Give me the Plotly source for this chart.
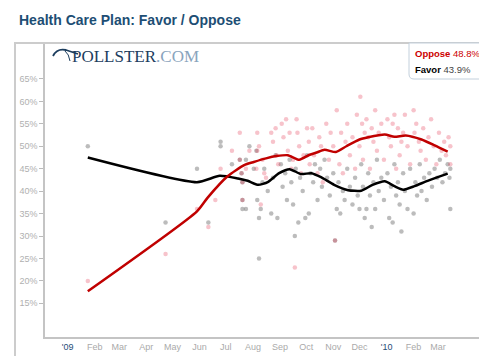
import plotly.graph_objects as go

# ---------------- data ----------------
oppose_dates = [
    "2009-01-24", "2009-04-23", "2009-05-29", "2009-06-11", "2009-06-19", "2009-06-25",
    "2009-07-08", "2009-07-17", "2009-07-17", "2009-07-19", "2009-07-20", "2009-07-20",
    "2009-07-24", "2009-07-28", "2009-08-05", "2009-08-06", "2009-08-06", "2009-08-08",
    "2009-08-10", "2009-08-12", "2009-08-14", "2009-08-16", "2009-08-22", "2009-08-24",
    "2009-08-27", "2009-08-28", "2009-08-30", "2009-09-03", "2009-09-05", "2009-09-08",
    "2009-09-10", "2009-09-12", "2009-09-14", "2009-09-16", "2009-09-18", "2009-09-20",
    "2009-09-21", "2009-09-23", "2009-09-25", "2009-09-28", "2009-10-02", "2009-10-04",
    "2009-10-05", "2009-10-08", "2009-10-10", "2009-10-14", "2009-10-16", "2009-10-18",
    "2009-10-20", "2009-10-24", "2009-10-27", "2009-10-29", "2009-11-01", "2009-11-03",
    "2009-11-05", "2009-11-08", "2009-11-10", "2009-11-12", "2009-11-15", "2009-11-17",
    "2009-11-20", "2009-11-23", "2009-11-26", "2009-11-28", "2009-12-01", "2009-12-02",
    "2009-12-04", "2009-12-05", "2009-12-07", "2009-12-09", "2009-12-11", "2009-12-13",
    "2009-12-15", "2009-12-17", "2009-12-19", "2009-12-21", "2009-12-23", "2009-12-26",
    "2009-12-29", "2010-01-02", "2010-01-04", "2010-01-06", "2010-01-08", "2010-01-10",
    "2010-01-12", "2010-01-14", "2010-01-16", "2010-01-18", "2010-01-20", "2010-01-22",
    "2010-01-25", "2010-01-28", "2010-02-01", "2010-02-02", "2010-02-04", "2010-02-07",
    "2010-02-09", "2010-02-12", "2010-02-15", "2010-02-18", "2010-02-21", "2010-02-24",
    "2010-02-27", "2010-03-02", "2010-03-05", "2010-03-08", "2010-03-10", "2010-03-13",
    "2010-03-15", "2010-03-15",
]
oppose_vals = [
    20, 26, 36, 32, 38, 45,
    49, 53, 47, 44, 42, 38,
    45, 49, 45, 53, 49, 50,
    37, 47, 44, 43, 53, 51,
    54, 48, 46, 55, 52, 56,
    49, 53, 45, 47, 23, 56,
    53, 50, 44, 48, 54, 51,
    46, 54, 48, 44, 52, 50,
    42, 55, 47, 53, 50, 29,
    58, 46, 53, 44, 51, 55,
    48, 52, 45, 57, 50, 61,
    55, 47, 53, 56, 52, 45,
    54, 51, 58, 49, 53, 55,
    47, 56, 52, 50, 55, 57,
    45, 54, 48, 51, 53, 57,
    50, 46, 58, 53, 55, 51,
    49, 54, 47, 52, 56, 50,
    46, 53, 49, 51, 48, 52,
    50, 46,
]

favor_dates = [
    "2009-01-24", "2009-04-23", "2009-05-29", "2009-06-11", "2009-06-25", "2009-06-25",
    "2009-07-08", "2009-07-17", "2009-07-19", "2009-07-20", "2009-07-20", "2009-07-20",
    "2009-07-24", "2009-07-24", "2009-07-28", "2009-08-02", "2009-08-05", "2009-08-06",
    "2009-08-08", "2009-08-08", "2009-08-10", "2009-08-12", "2009-08-14", "2009-08-18",
    "2009-08-22", "2009-08-24", "2009-08-27", "2009-08-29", "2009-09-02", "2009-09-04",
    "2009-09-07", "2009-09-09", "2009-09-12", "2009-09-14", "2009-09-16", "2009-09-18",
    "2009-09-19", "2009-09-22", "2009-09-24", "2009-09-27", "2009-09-30", "2009-10-02",
    "2009-10-04", "2009-10-06", "2009-10-09", "2009-10-11", "2009-10-14", "2009-10-17",
    "2009-10-19", "2009-10-22", "2009-10-25", "2009-10-28", "2009-11-01", "2009-11-03",
    "2009-11-05", "2009-11-07", "2009-11-09", "2009-11-12", "2009-11-14", "2009-11-17",
    "2009-11-20", "2009-11-23", "2009-11-26", "2009-11-29", "2009-12-01", "2009-12-03",
    "2009-12-05", "2009-12-07", "2009-12-09", "2009-12-11", "2009-12-13", "2009-12-15",
    "2009-12-17", "2009-12-19", "2009-12-21", "2009-12-23", "2009-12-26", "2009-12-29",
    "2010-01-02", "2010-01-04", "2010-01-06", "2010-01-08", "2010-01-10", "2010-01-12",
    "2010-01-14", "2010-01-16", "2010-01-18", "2010-01-20", "2010-01-22", "2010-01-25",
    "2010-01-28", "2010-02-01", "2010-02-03", "2010-02-05", "2010-02-08", "2010-02-10",
    "2010-02-13", "2010-02-16", "2010-02-19", "2010-02-22", "2010-02-25", "2010-02-28",
    "2010-03-03", "2010-03-06", "2010-03-09", "2010-03-12", "2010-03-14", "2010-03-15",
    "2010-03-15",
]
favor_vals = [
    50, 33, 45, 33, 51, 50,
    46, 47, 44, 42, 38, 36,
    36, 47, 50, 45, 49, 38,
    34, 25, 36, 42, 45, 40,
    35, 43, 48, 34, 46, 41,
    44, 38, 47, 42, 37, 30,
    45, 33, 43, 40, 34, 48,
    35, 44, 42, 46, 38, 45,
    41, 47, 43, 39, 44, 29,
    36, 42, 35, 40, 38, 45,
    41, 37, 43, 39, 36, 46,
    41, 34, 36, 44, 39, 32,
    42, 36, 47, 40, 43, 38,
    44, 34, 41, 33, 46, 39,
    42, 37, 31, 44, 40, 36,
    45, 35, 42, 39, 46, 40,
    43, 38, 44, 41, 45, 43,
    47, 42, 44, 46, 43, 36,
    45,
]

oppose_trend_dates = [
    "2009-01-24", "2009-05-29", "2009-06-10", "2009-07-03", "2009-07-22", "2009-08-02",
    "2009-08-16", "2009-08-28", "2009-09-10", "2009-09-23", "2009-10-05", "2009-10-13",
    "2009-10-22", "2009-11-04", "2009-11-16", "2009-12-01", "2009-12-11", "2009-12-30",
    "2010-01-10", "2010-01-23", "2010-02-10", "2010-02-25", "2010-03-12",
]
oppose_trend_vals = [
    17.7, 35.5, 38.5, 43.3, 45.8, 46.5,
    47.3, 47.8, 48.0, 47.0, 48.1, 48.6,
    49.2, 48.7, 50.0, 51.5, 52.0, 52.6,
    52.1, 52.4, 51.5, 50.2, 48.8,
]

favor_trend_dates = [
    "2009-01-24", "2009-05-29", "2009-06-24", "2009-07-15", "2009-07-26", "2009-08-07",
    "2009-08-18", "2009-08-31", "2009-09-12", "2009-09-25", "2009-10-07", "2009-10-18",
    "2009-11-02", "2009-11-18", "2009-12-03", "2009-12-16", "2009-12-30", "2010-01-10",
    "2010-01-20", "2010-02-02", "2010-02-17", "2010-03-12",
]
favor_trend_vals = [
    47.5, 42.0, 43.4, 42.8, 42.3, 41.4,
    42.0, 44.0, 44.9, 43.8, 44.0, 43.1,
    41.4, 40.2, 40.1, 41.4, 42.2, 41.1,
    40.3, 41.1, 42.3, 43.9,
]

month_ticks = [
    "2009-01-01", "2009-02-01", "2009-03-01", "2009-04-01", "2009-05-01", "2009-06-01",
    "2009-07-01", "2009-08-01", "2009-09-01", "2009-10-01", "2009-11-01", "2009-12-01",
    "2010-01-01", "2010-02-01", "2010-03-01",
]
month_labels = [
    "'09", "Feb", "Mar", "Apr", "May", "Jun", "Jul", "Aug", "Sep", "Oct", "Nov", "Dec",
    "'10", "Feb", "Mar",
]
y_ticks = [15, 20, 25, 30, 35, 40, 45, 50, 55, 60, 65]

# ---------------- geometry helpers (styling only) ----------------
W, H = 487, 356
ML, MR, MT, MB = 37, 8, 35, 27
PW = W - ML - MR
PH = H - MT - MB


def px(x):
    return (x - ML) / PW


def py(y):
    return (H - MB - y) / PH


YEAR_BLUE = "#1f4e79"
styled_labels = [
    f"<span style='color:{YEAR_BLUE}'>{t}</span>" if t.startswith("'") else t
    for t in month_labels
]

fig = go.Figure()

fig.add_trace(go.Scatter(
    x=favor_dates, y=favor_vals, mode="markers",
    marker=dict(size=4.5, color="rgba(70,70,70,0.36)", line=dict(width=0)),
    hoverinfo="skip", showlegend=False,
))
fig.add_trace(go.Scatter(
    x=oppose_dates, y=oppose_vals, mode="markers",
    marker=dict(size=4.5, color="rgba(225,40,70,0.28)", line=dict(width=0)),
    hoverinfo="skip", showlegend=False,
))
fig.add_trace(go.Scatter(
    x=favor_trend_dates, y=favor_trend_vals, mode="lines",
    line=dict(color="#000000", width=2.5, shape="spline", smoothing=0.6),
    showlegend=False, name="Favor",
))
fig.add_trace(go.Scatter(
    x=oppose_trend_dates, y=oppose_trend_vals, mode="lines",
    line=dict(color="#c00000", width=2.5, shape="spline", smoothing=0.6),
    showlegend=False, name="Oppose",
))

fig.update_layout(
    width=W, height=H,
    margin=dict(l=ML, r=MR, t=MT, b=MB, pad=0),
    paper_bgcolor="white", plot_bgcolor="white",
    font=dict(family="Liberation Sans, Arial, sans-serif", size=9, color="#aaaaaa"),
    xaxis=dict(
        type="date", range=["2008-12-06", "2010-04-26"],
        tickvals=month_ticks, ticktext=styled_labels,
        showgrid=False, zeroline=False,
        showline=True, linecolor="#c4c4c4", linewidth=1.5,
        ticks="", tickfont=dict(size=9, color="#aaaaaa"),
    ),
    yaxis=dict(
        range=[7.5, 73.0], tickvals=y_ticks,
        ticktext=[f"{v}%" for v in y_ticks],
        showgrid=False, zeroline=False,
        showline=True, linecolor="#c4c4c4", linewidth=1.5,
        ticks="outside", ticklen=4, tickcolor="#bbbbbb", tickwidth=1,
        tickfont=dict(size=9, color="#b0b0b0"),
    ),
    showlegend=False,
)

shapes = []
# outer frame (left, top, right)
shapes.append(dict(
    type="path", xref="paper", yref="paper",
    path=f"M {px(7)},{py(360)} L {px(7)},{py(35)} L {px(480)},{py(35)} L {px(480)},{py(360)}",
    line=dict(color="#cccccc", width=2),
))
# legend box with rounded lower-left corner
shapes.append(dict(
    type="path", xref="paper", yref="paper",
    path=(f"M {px(401)},{py(35)} L {px(401)},{py(66)} "
          f"Q {px(401)},{py(71)} {px(406)},{py(71)} L {px(480)},{py(71)} "
          f"L {px(480)},{py(35)} Z"),
    fillcolor="white", line=dict(color="#c3d0dc", width=1),
))
# pollster logo swoosh
shapes.append(dict(
    type="path", xref="paper", yref="paper",
    path=(f"M {px(45)},{py(48)} Q {px(49)},{py(40)} {px(58)},{py(42)} "
          f"L {px(70)},{py(46)}"),
    line=dict(color="#1c3d5e", width=1.8),
))
shapes.append(dict(
    type="path", xref="paper", yref="paper",
    path=f"M {px(57)},{py(43)} Q {px(61)},{py(46)} {px(62)},{py(53)}",
    line=dict(color="#1c3d5e", width=1),
))
fig.update_layout(shapes=shapes)

annotations = [
    dict(
        text="<b>Health Care Plan: Favor / Oppose</b>",
        xref="paper", yref="paper", x=px(9), y=py(12),
        xanchor="left", yanchor="middle", showarrow=False,
        font=dict(family="Liberation Sans, Arial, sans-serif", size=14, color="#1d4e74"),
    ),
    dict(
        text="<span style='color:#1c3d5e'>POLLSTER</span><span style='color:#8aa4bd'>.COM</span>",
        xref="paper", yref="paper", x=px(62), y=py(48),
        xanchor="left", yanchor="middle", showarrow=False,
        font=dict(family="Liberation Serif, Times New Roman, serif", size=17),
    ),
    dict(
        text=f"<b>Oppose</b> {oppose_trend_vals[-1]:.1f}%",
        xref="paper", yref="paper", x=px(405), y=py(45.5),
        xanchor="left", yanchor="middle", showarrow=False,
        font=dict(family="Liberation Sans, Arial, sans-serif", size=9.5, color="#cc0000"),
    ),
    dict(
        text=f"<b>Favor</b> <span style='color:#444444'>{favor_trend_vals[-1]:.1f}%</span>",
        xref="paper", yref="paper", x=px(405), y=py(61),
        xanchor="left", yanchor="middle", showarrow=False,
        font=dict(family="Liberation Sans, Arial, sans-serif", size=9.5, color="#000000"),
    ),
]
fig.update_layout(annotations=annotations)

fig.write_html("out.html")
